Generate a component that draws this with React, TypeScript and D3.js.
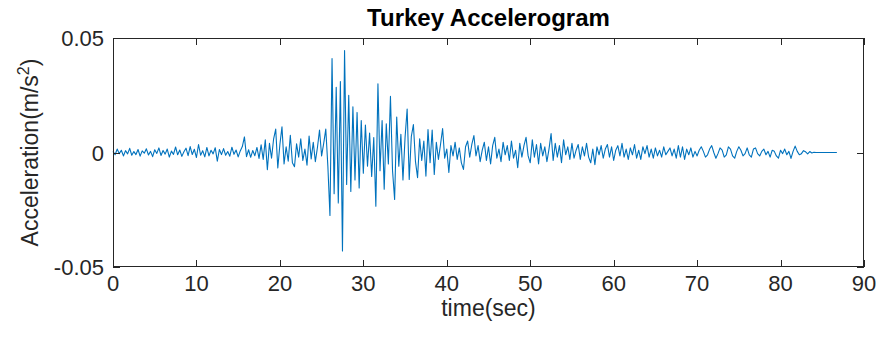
import React, { useEffect, useRef } from "react";
import * as d3 from "d3";

// sampling step of the digitised record (sec)
const dt = 0.25;

// acceleration readings, in 1e-3 m/s^2, every 0.25 s
// 0 - 18 s : ambient part
const preEvent = [
  0.5, -1.0, 1.5, -0.5, 1.0, -1.5, 0.8, -0.6, 1.8, -1.2, 0.4, -0.9, 1.3, -1.6, 0.7, -0.3,
  1.6, -1.1, 0.5, -1.8, 1.2, -0.4, 2.0, -1.3, 0.9, -0.7, 1.5, -2.0, 0.6, -0.8, 2.4, -1.0,
  1.1, -1.7, 0.3, 1.9, -1.4, 2.6, -0.9, 1.4, -2.2, 3.5, -1.2, 0.8, -1.9, 2.2, -1.5, 1.0,
  -0.6, 2.1, -3.8, 1.3, -0.9, 1.7, -1.2, 0.4, -1.6, 2.3, -0.8, 1.1, -1.9, 0.7, 2.6, 6.8,
  -1.8, 1.2, -2.1, 0.9, -1.4, 2.2, -2.6, 3.4,
];
// 18 - 26 s : P-wave build up
const buildUp = [
  -3.0, 5.5, -7.5, 4.0, -2.5, 6.0, 10.2, -6.8,
  3.5, 11.2, -5.0, 2.5, -3.8, 7.5, -4.5, -6.2,
  3.8, -2.0, 6.0, -3.5, 1.5, -5.5, 7.2, -2.8,
  4.5, -4.0, 2.2, 9.8, -1.5, 4.0, 10.2, -6.0,
];
// 26 - 40 s : strong shaking
const strongMotion = [
  -27.5, 41.0, -18.0, 28.5, -22.0, 31.0, -43.0, 44.5,
  -14.0, 25.0, -17.0, 20.0, -12.0, 17.5, -15.5, 14.0,
  -9.0, 12.0, -6.0, 8.5, -10.5, 6.5, -23.5, 30.0,
  -8.0, 14.0, -16.0, 12.5, -5.0, 24.5, -8.0, -20.5,
  15.5, -6.0, 8.0, -12.0, 6.5, 19.0, -11.8, 7.0,
  12.2, -4.0, -11.0, 6.0, -3.5, 5.0, -10.3, 10.0,
  -4.5, 9.8, -9.6, 4.5, -3.0, 3.5, 10.5, -2.5,
];
// 40 - 70 s : coda
const coda = [
  1.5, -8.7, 3.0, -1.5, 4.5, -3.0, 2.0, -4.5, -7.4, 2.5, 5.0, -2.0, 3.5, 7.4, -1.5, 3.0,
  -4.0, 1.0, 4.5, -3.5, 2.5, -5.0, 3.0, 6.6, -2.5, 1.5, -4.0, 4.5, -1.0, 3.0, -3.5, 5.0,
  -2.5, 1.0, -6.6, 4.0, -2.0, 3.0, 6.6, -1.5,
  -4.5, 5.5, -2.0, 3.5, -5.0, 4.0, -1.5, 2.5, -4.0, 1.5, 8.3, -3.5, 4.0, -2.0, 3.0, -4.5,
  5.5, -1.0, 2.5, -3.0, 4.0, -2.5, 1.0, 3.5, -3.0, 2.5, -1.5, 4.0, -2.0, -4.5, 1.5, -5.3,
  2.5, -1.0, 3.0, -2.5, 1.5, 3.5, -2.0, 2.5,
  -3.5, 1.0, 3.0, -1.5, 4.0, -2.0, 1.5, -3.0, 2.0, -1.0, 3.5, -2.5, 1.0, -3.0, 2.5, -0.5,
  3.0, -2.0, 1.5, -2.5, 2.0, -1.5, 1.0, -2.0, 2.5, -1.0, 0.5, 2.0, -1.5, 1.5, -2.5, 3.0,
  -2.0, 2.5, -3.0, 1.5, -1.0, 2.0, -2.0, 0.5,
];
// 70 - 87 s : decay and padded end
const tail = [
  -1.5, 1.0, 2.5, 0.5, -2.0, -1.0, 1.5, 3.0, 0.0, -2.5, -0.5, 2.0, 1.0, -2.0, -1.0, 2.5,
  1.5, -1.5, -2.5, 0.5, 2.5, 1.0, -1.5, -0.5, 2.0, -1.0, -2.0, 1.5, 2.0, -0.5, -1.5, 0.5,
  1.5, -1.0, 0.5, -2.0, 1.0, 0.5, -1.5, -2.5, 1.0, -0.5, 1.5, -1.0, 0.5, -2.6, 0.5, 2.8,
  0.5, -1.0, -0.5, 0.8, 0.3, -0.6, 0.4, -0.2, 0.1,
  0, 0, 0, 0, 0, 0, 0, 0, 0, 0, 0,
];

const xTicks = [0, 10, 20, 30, 40, 50, 60, 70, 80, 90];
const yTicks = [-0.05, 0, 0.05];
const yTickLabels = ["-0.05", "0", "0.05"];

function App() {
  const ref = useRef<SVGSVGElement | null>(null);

  useEffect(() => {
    document.body.style.margin = "0";
    drawChart();
  }, []);

  const drawChart = () => {
    const svg = d3.select(ref.current);
    svg.selectAll("*").remove();

    const font = "'Liberation Sans', Arial, Helvetica, sans-serif";
    const axisColor = "#262626";
    const left = 113, right = 864, top = 38, bottom = 267;
    const tickLen = 7;

    const samples = [...preEvent, ...buildUp, ...strongMotion, ...coda, ...tail];
    const data = samples.map((v, i) => ({ t: i * dt, a: v / 1000 }));

    const x = d3.scaleLinear().domain([0, 90]).range([left, right]);
    const y = d3.scaleLinear().domain([-0.05, 0.05]).range([bottom, top]);

    // white axes background
    svg.append("rect")
      .attr("x", left).attr("y", top)
      .attr("width", right - left).attr("height", bottom - top)
      .attr("fill", "#fff");

    // signal
    const line = d3.line<{ t: number; a: number }>()
      .x(d => x(d.t))
      .y(d => y(d.a));
    svg.append("path")
      .datum(data)
      .attr("d", line)
      .attr("fill", "none")
      .attr("stroke", "#0072BD")
      .attr("stroke-width", 1.1)
      .attr("stroke-linejoin", "round");

    // box
    svg.append("rect")
      .attr("x", left + 0.5).attr("y", top + 0.5)
      .attr("width", right - left - 1).attr("height", bottom - top - 1)
      .attr("fill", "none")
      .attr("stroke", axisColor)
      .attr("stroke-width", 1);

    // ticks point inward on all four sides
    const g = svg.append("g").attr("stroke", axisColor).attr("stroke-width", 1);
    xTicks.forEach(t => {
      const px = Math.round(x(t)) + 0.5;
      g.append("line").attr("x1", px).attr("x2", px).attr("y1", bottom).attr("y2", bottom - tickLen);
      g.append("line").attr("x1", px).attr("x2", px).attr("y1", top).attr("y2", top + tickLen);
    });
    yTicks.forEach(v => {
      const py = Math.round(y(v)) + 0.5;
      g.append("line").attr("x1", left).attr("x2", left + tickLen).attr("y1", py).attr("y2", py);
      g.append("line").attr("x1", right).attr("x2", right - tickLen).attr("y1", py).attr("y2", py);
    });

    // tick labels
    svg.selectAll(".xlab")
      .data(xTicks)
      .enter()
      .append("text")
      .attr("x", d => x(d))
      .attr("y", 291)
      .attr("text-anchor", "middle")
      .style("font-family", font)
      .style("font-size", "22px")
      .attr("fill", axisColor)
      .text(d => d);

    svg.selectAll(".ylab")
      .data(yTicks)
      .enter()
      .append("text")
      .attr("x", left - 9)
      .attr("y", d => y(d) + 8)
      .attr("text-anchor", "end")
      .style("font-family", font)
      .style("font-size", "22px")
      .attr("fill", axisColor)
      .text((d, i) => yTickLabels[i]);

    // x label
    svg.append("text")
      .attr("x", (left + right) / 2)
      .attr("y", 316)
      .attr("text-anchor", "middle")
      .style("font-family", font)
      .style("font-size", "23px")
      .attr("fill", axisColor)
      .text("time(sec)");

    // y label
    const yl = svg.append("text")
      .attr("transform", `translate(38,${(top + bottom) / 2}) rotate(-90)`)
      .attr("text-anchor", "middle")
      .style("font-family", font)
      .style("font-size", "23px")
      .attr("fill", axisColor);
    yl.append("tspan").text("Acceleration(m/s");
    yl.append("tspan").attr("dy", -9).style("font-size", "16px").text("2");
    yl.append("tspan").attr("dy", 9).text(")");

    // title
    svg.append("text")
      .attr("x", (left + right) / 2)
      .attr("y", 26)
      .attr("text-anchor", "middle")
      .style("font-family", font)
      .style("font-size", "24px")
      .style("font-weight", "bold")
      .attr("fill", "#000")
      .text("Turkey Accelerogram");
  };

  return (
    <svg ref={ref} width={879} height={344} style={{ display: "block", background: "#fff" }}></svg>
  );
}

export default App;
